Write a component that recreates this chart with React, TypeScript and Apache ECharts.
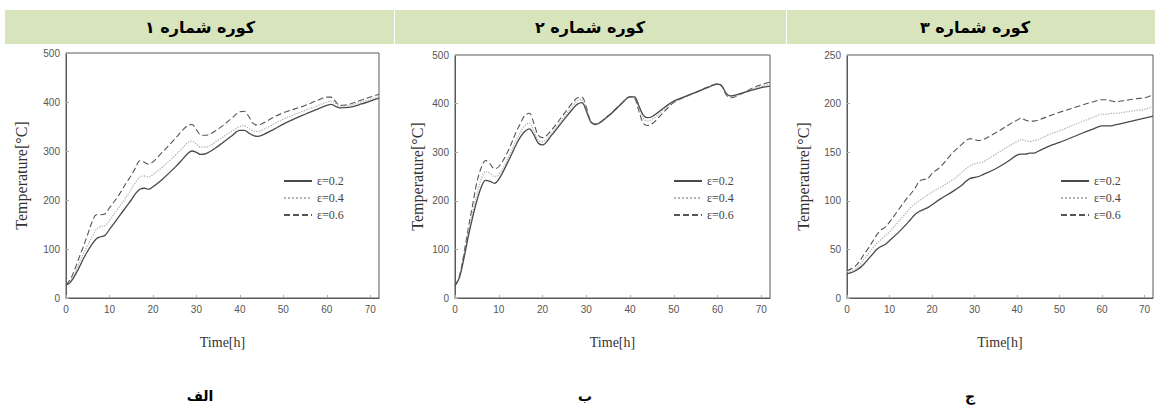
import React, { useEffect, useRef } from "react";
import * as echarts from "echarts";

const hours = [0,1,2,3,4,5,6,7,8,9,10,12,14,15,16,17,18,19,20,22,25,27,28,29,30,31,32,35,38,40,41,42,43,44,45,48,50,55,58,60,61,62,63,65,68,70,72];

const seriesNames = ["ε=0.2", "ε=0.4", "ε=0.6"];
const panelTitles = ["کوره شماره ۱", "کوره شماره ۲", "کوره شماره ۳"];
const panelLabels = ["الف", "ب", "ج"];
const yMax = [500, 500, 250];
const yInterval = [100, 100, 50];
const xTicks = [0, 10, 20, 30, 40, 50, 60, 70];

const f1e02 = [26,32,45,62,80,96,110,121,125,128,140,164,188,200,213,222,224,222,227,241,266,285,295,300,297,293,294,310,330,342,342,337,332,330,332,345,355,375,386,393,395,391,388,389,396,402,408];
const f1e04 = [26,34,50,70,90,108,125,140,146,148,158,183,208,222,236,247,249,247,252,266,290,308,317,320,314,308,308,322,340,350,352,346,341,340,342,356,365,383,393,400,402,397,392,393,400,405,411];
const f1e06 = [27,38,58,82,105,130,155,170,170,172,184,208,237,250,266,280,277,273,278,296,324,344,352,354,343,333,332,345,366,380,381,371,357,353,355,370,378,393,404,410,410,401,393,395,404,410,416];

const f2e02 = [25,42,80,125,165,200,228,242,240,236,244,278,316,332,343,348,336,319,315,334,368,390,399,402,385,363,357,374,399,414,414,396,377,371,373,393,405,423,434,440,436,421,416,420,428,433,436];
const f2e04 = [25,43,84,132,175,212,245,260,257,250,254,285,325,342,355,360,344,325,322,338,373,396,406,408,390,364,358,374,398,414,414,392,370,364,367,390,404,423,435,441,437,420,414,419,430,436,440];
const f2e06 = [25,45,90,142,190,238,268,283,276,266,270,300,342,360,376,380,360,335,330,345,380,403,412,413,393,364,358,375,400,414,412,386,360,355,358,385,402,423,435,441,436,418,412,418,432,439,444];

const f3e02 = [25,26,28,31,35,40,45,50,53,55,59,67,76,81,86,89,91,93,96,102,110,116,120,123,124,125,127,133,141,147,148,148,149,149,151,157,160,169,174,177,177,177,178,180,183,185,187];
const f3e04 = [27,28,30,34,40,45,51,56,60,64,68,78,88,93,97,100,103,106,109,114,122,129,133,136,138,139,140,148,156,161,163,162,161,162,163,169,172,181,186,189,189,190,190,191,193,194,197];
const f3e06 = [28,30,33,38,45,51,58,65,70,73,78,90,102,107,113,120,122,123,128,135,150,158,162,164,163,162,163,170,178,183,185,183,182,182,183,188,191,198,202,204,204,203,202,203,205,206,209];

const panels = [
  [f1e02, f1e04, f1e06],
  [f2e02, f2e04, f2e06],
  [f3e02, f3e04, f3e06],
];

const grids = [
  { left: 66, top: 53, width: 313, height: 245 },
  { left: 455, top: 55, width: 315, height: 243 },
  { left: 847, top: 55, width: 306, height: 243 },
];
const yNameGaps = [37, 30, 36];
const legendLeft = [278, 668, 1055];
const headerCenters = [200, 590, 975];
const labelCenters = [200, 585, 970];

const lineStyles = [
  { color: "#4a4a4a", width: 1.3, type: "solid" },
  { color: "#b4b4b4", width: 1.3, type: "dotted" },
  { color: "#555555", width: 1.1, type: [6, 3] },
];

export default function App() {
  const ref = useRef<HTMLDivElement>(null);
  useEffect(() => {
    document.body.style.margin = "0";
    if (!ref.current) return;
    const chart = echarts.init(ref.current, undefined, { renderer: "svg" });
    const serif = "'Liberation Serif', 'Times New Roman', serif";
    const narrow = "'Liberation Sans Narrow', 'Liberation Sans', Arial, sans-serif";
    const arabic = "'DejaVu Sans', 'Noto Sans', sans-serif";

    const series: any[] = [];
    panels.forEach((vals, p) => {
      vals.forEach((v, s) => {
        series.push({
          type: "line",
          name: seriesNames[s],
          xAxisIndex: p,
          yAxisIndex: p,
          data: hours.map((h, i) => [h, v[i]]),
          smooth: 0.35,
          showSymbol: false,
          symbol: "none",
          lineStyle: { ...lineStyles[s] },
          itemStyle: { color: lineStyles[s].color },
          z: 3 - s,
        });
      });
    });

    const graphic: any[] = [
      { type: "rect", shape: { x: 5, y: 10, width: 389, height: 34 }, style: { fill: "#d7e4bc" }, silent: true },
      { type: "rect", shape: { x: 395, y: 10, width: 391, height: 34 }, style: { fill: "#d7e4bc" }, silent: true },
      { type: "rect", shape: { x: 787, y: 10, width: 368, height: 34 }, style: { fill: "#d7e4bc" }, silent: true },
    ];
    panelTitles.forEach((t, i) => {
      graphic.push({
        type: "text",
        x: headerCenters[i],
        y: 27,
        style: { text: t, fill: "#000", font: `bold 16px ${arabic}`, textAlign: "center", textVerticalAlign: "middle" },
      });
    });
    panelLabels.forEach((t, i) => {
      graphic.push({
        type: "text",
        x: labelCenters[i],
        y: 396,
        style: { text: t, fill: "#000", font: `bold 14px ${arabic}`, textAlign: "center", textVerticalAlign: "middle" },
      });
    });

    const option: any = {
      animation: false,
      backgroundColor: "#ffffff",
      grid: grids.map((g) => ({ ...g, show: true, borderColor: "#5a5a5a", borderWidth: 1, backgroundColor: "transparent" })),
      legend: grids.map((g, i) => ({
        orient: "vertical",
        left: legendLeft[i],
        top: 170,
        itemWidth: 28,
        itemHeight: 12,
        itemGap: 5,
        data: seriesNames,
        itemStyle: { color: "transparent", borderColor: "transparent", borderWidth: 0, opacity: 0 },
        textStyle: { fontFamily: serif, fontSize: 12, color: "#444" },
        selectedMode: false,
      })),
      xAxis: grids.map((g, i) => ({
        type: "value",
        gridIndex: i,
        min: 0,
        max: 72,
        interval: 10,
        name: "Time[h]",
        nameLocation: "middle",
        nameGap: 37,
        nameTextStyle: { fontFamily: serif, fontSize: 14, color: "#333" },
        axisLine: { show: true, lineStyle: { color: "#5a5a5a", width: 1 } },
        axisTick: { show: true, inside: true, length: 3, lineStyle: { color: "#aaa" } },
        axisLabel: {
          fontFamily: narrow,
          fontSize: 10,
          color: "#555",
          margin: 6,
          customValues: xTicks,
          formatter: (v: number) => (xTicks.includes(v) ? String(v) : ""),
        },
        splitLine: { show: false },
      })),
      yAxis: grids.map((g, i) => ({
        type: "value",
        gridIndex: i,
        min: 0,
        max: yMax[i],
        interval: yInterval[i],
        name: "Temperature[°C]",
        nameLocation: "middle",
        nameGap: yNameGaps[i],
        nameRotate: 90,
        nameTextStyle: { fontFamily: serif, fontSize: 16, color: "#333" },
        axisLine: { show: true, lineStyle: { color: "#5a5a5a", width: 1 } },
        axisTick: { show: true, inside: true, length: 3, lineStyle: { color: "#aaa" } },
        axisLabel: { fontFamily: narrow, fontSize: 10, color: "#555", margin: 6 },
        splitLine: { show: false },
      })),
      series,
      graphic,
    };
    chart.setOption(option);
    return () => chart.dispose();
  }, []);
  return <div ref={ref} style={{ width: 1157, height: 413 }} />;
}
